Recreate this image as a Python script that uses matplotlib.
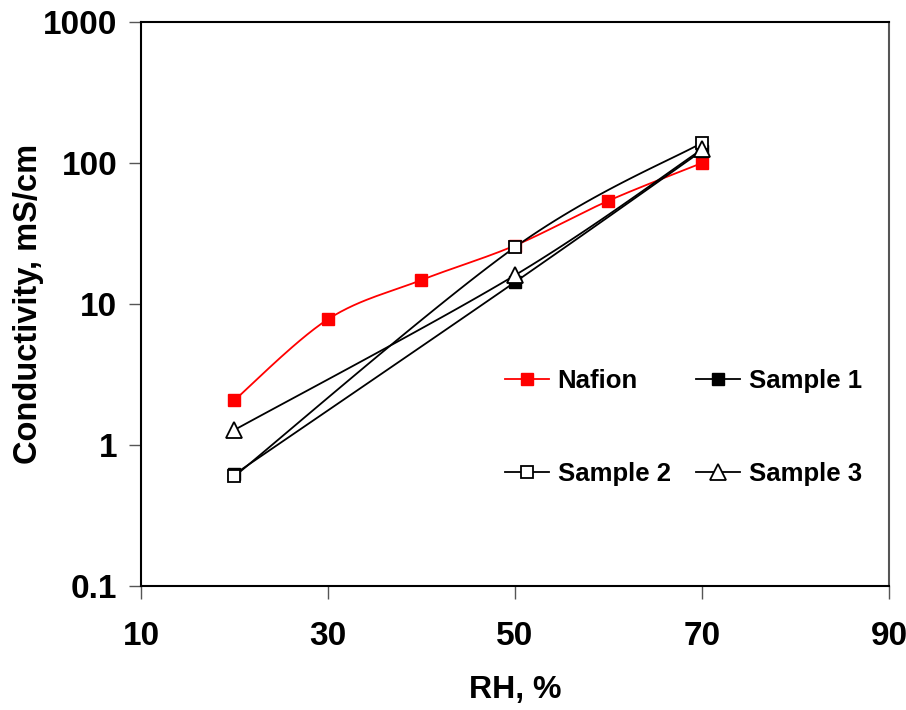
import numpy as np
import matplotlib
matplotlib.use("Agg")
import matplotlib.pyplot as plt

# data
rh_nafion = [20, 30, 40, 50, 60, 70]
nafion = [2.08, 7.8, 14.8, 26.0, 54.0, 100.0]

rh_samples = [20, 50, 70]
sample1 = [0.62, 14.3, 122.0]
sample2 = [0.60, 25.3, 139.0]
sample3 = [1.28, 16.0, 125.0]

xticks = [10, 30, 50, 70, 90]
yticks = [0.1, 1, 10, 100, 1000]
ytick_labels = ["0.1", "1", "10", "100", "1000"]

plt.rcParams['font.family'] = ['Liberation Sans', 'DejaVu Sans']
plt.rcParams['font.weight'] = 'bold'


def smooth(x, y, n=30):
    # Excel-style smoothed line (Catmull-Rom bezier) in x / log10(y) space
    x = np.asarray(x, float)
    ly = np.log10(np.asarray(y, float))
    pts = np.column_stack([x, ly])
    if len(pts) < 3:
        return x, 10 ** ly
    out = []
    for i in range(len(pts) - 1):
        p0 = pts[i - 1] if i > 0 else pts[i]
        p1 = pts[i]
        p2 = pts[i + 1]
        p3 = pts[i + 2] if i + 2 < len(pts) else pts[i + 1]
        c1 = p1 + (p2 - p0) / 6.0
        c2 = p2 - (p3 - p1) / 6.0
        t = np.linspace(0, 1, n)[:, None]
        seg = ((1 - t) ** 3) * p1 + 3 * ((1 - t) ** 2) * t * c1 + 3 * (1 - t) * t ** 2 * c2 + t ** 3 * p2
        out.append(seg if i == 0 else seg[1:])
    out = np.vstack(out)
    return out[:, 0], 10 ** out[:, 1]


fig = plt.figure(figsize=(9.06, 7.10), dpi=100)
ax = fig.add_axes([0.1556, 0.1746, 0.8256, 0.7944])

series = [
    ("Nafion", rh_nafion, nafion, dict(color='red', marker='s', mfc='red', mec='red', ms=9, lw=1.3)),
    ("Sample 1", rh_samples, sample1, dict(color='black', marker='s', mfc='black', mec='black', ms=9, lw=1.3)),
    ("Sample 2", rh_samples, sample2, dict(color='black', marker='s', mfc='white', mec='black', ms=9, mew=1.3, lw=1.3)),
    ("Sample 3", rh_samples, sample3, dict(color='black', marker='^', mfc='white', mec='black', ms=11, mew=1.3, lw=1.3)),
]

handles = {}
for name, xs, ys, st in series:
    sx, sy = smooth(xs, ys)
    ax.plot(sx, sy, color=st['color'], lw=st['lw'], zorder=2)
    ax.plot(xs, ys, ls='none', marker=st['marker'], mfc=st['mfc'], mec=st['mec'],
            ms=st['ms'], mew=st.get('mew', 1.0), zorder=3)
    h, = ax.plot([], [], color=st['color'], lw=st['lw'], marker=st['marker'],
                 mfc=st['mfc'], mec=st['mec'], ms=st['ms'], mew=st.get('mew', 1.0))
    handles[name] = h

ax.set_yscale('log')
ax.set_xlim(10, 90)
ax.set_ylim(0.1, 1000)
ax.set_xticks(xticks)
ax.set_xticklabels([str(v) for v in xticks])
ax.set_yticks(yticks)
ax.set_yticklabels(ytick_labels)
ax.yaxis.set_minor_locator(matplotlib.ticker.NullLocator())
ax.tick_params(axis='both', direction='out', length=9, width=1, color='#555555',
               labelsize=24, pad=8)
ax.tick_params(axis='x', pad=16)
for lab in ax.get_xticklabels() + ax.get_yticklabels():
    lab.set_fontweight('bold')
for s in ax.spines.values():
    s.set_linewidth(1.5)
ax.spines['right'].set_color('#555555')

ax.set_xlabel("RH, %", fontsize=23, fontweight='bold', labelpad=17)
ax.set_ylabel("Conductivity, mS/cm", fontsize=23.5, fontweight='bold')
ax.yaxis.set_label_coords(-0.13, 0.5)

order = ["Nafion", "Sample 2", "Sample 1", "Sample 3"]
fig.legend([handles[k] for k in order], order, ncol=2, frameon=False,
           loc='upper left', bbox_to_anchor=(505 / 906, 1 - 369 / 710),
           prop={'size': 18.5, 'weight': 'bold'}, handlelength=1.7,
           handletextpad=0.35, columnspacing=1.0, labelspacing=2.7, borderpad=0,
           borderaxespad=0)

fig.savefig("out.png", dpi=100)
